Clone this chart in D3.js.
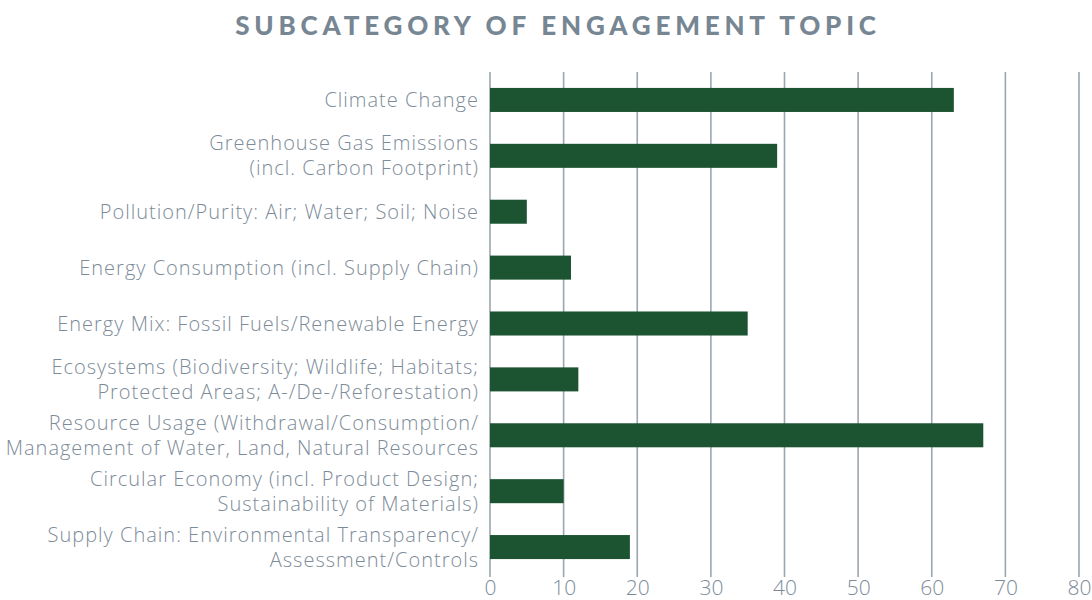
<!DOCTYPE html>
<html><head><meta charset="utf-8">
<script src="https://cdn.jsdelivr.net/npm/d3@7"></script>
<style>
html,body{margin:0;padding:0;background:#fff;}
svg{display:block;}
</style></head>
<body>
<svg id="chart" width="1092" height="600"></svg>
<script>
const title = "SUBCATEGORY OF ENGAGEMENT TOPIC";
const categories = [
  ["Climate Change"],
  ["Greenhouse Gas Emissions", "(incl. Carbon Footprint)"],
  ["Pollution/Purity: Air; Water; Soil; Noise"],
  ["Energy Consumption (incl. Supply Chain)"],
  ["Energy Mix: Fossil Fuels/Renewable Energy"],
  ["Ecosystems (Biodiversity; Wildlife; Habitats;", "Protected Areas; A-/De-/Reforestation)"],
  ["Resource Usage (Withdrawal/Consumption/", "Management of Water, Land, Natural Resources"],
  ["Circular Economy (incl. Product Design;", "Sustainability of Materials)"],
  ["Supply Chain: Environmental Transparency/", "Assessment/Controls"]
];
const values = [63, 39, 5, 11, 35, 12, 67, 10, 19];
const xTicks = [0, 10, 20, 30, 40, 50, 60, 70, 80];

const svg = d3.select("#chart");
const font = "'Open Sans', sans-serif";
const textColor = "#7d8b98";

const x = d3.scaleLinear().domain([0, 80]).range([490, 1079]);
const y = d3.scaleBand().domain(d3.range(categories.length)).range([72, 575]).paddingInner(0.57).paddingOuter(0.285);

svg.append("text")
  .attr("x", 558).attr("y", 35)
  .attr("text-anchor", "middle")
  .attr("font-family", "Lato, sans-serif").attr("font-weight", 900)
  .attr("font-size", 26).attr("letter-spacing", 4.8)
  .attr("fill", "#778693")
  .text(title);

// gridlines
svg.append("g").selectAll("line").data(xTicks).join("line")
  .attr("x1", d => x(d)).attr("x2", d => x(d))
  .attr("y1", 72).attr("y2", 577)
  .attr("stroke", "#9ba6b0").attr("stroke-width", 1.6);

// bars
svg.append("g").selectAll("rect").data(values).join("rect")
  .attr("x", x(0))
  .attr("y", (d, i) => y(i))
  .attr("width", d => x(d) - x(0))
  .attr("height", y.bandwidth())
  .attr("fill", "#1c5432");

// x axis
const xAxis = d3.axisBottom(x).tickValues(xTicks).tickSize(0).tickPadding(0);
const gx = svg.append("g").attr("transform", "translate(0,580)").call(xAxis);
gx.select(".domain").remove();
gx.selectAll("text")
  .attr("font-family", font).attr("font-weight", 300).attr("font-size", 21)
  .attr("fill", textColor).attr("dy", "0.72em");

// y labels
const yAxis = d3.axisLeft(y).tickSize(0).tickFormat(() => "");
const gy = svg.append("g").attr("transform", "translate(479,0)").call(yAxis);
gy.select(".domain").remove();
gy.selectAll(".tick").each(function(i) {
  const lines = categories[i];
  const t = d3.select(this).select("text")
    .attr("font-family", font).attr("font-weight", 300).attr("font-size", 20)
    .attr("letter-spacing", 1).attr("fill", textColor)
    .attr("text-anchor", "end").attr("x", 0).attr("dy", null);
  const lh = 25;
  const start = -(lines.length - 1) * lh / 2;
  lines.forEach((l, k) => {
    t.append("tspan").attr("x", 0).attr("y", start + k * lh).attr("dy", "0.35em").text(l);
  });
});
</script>
</body></html>
